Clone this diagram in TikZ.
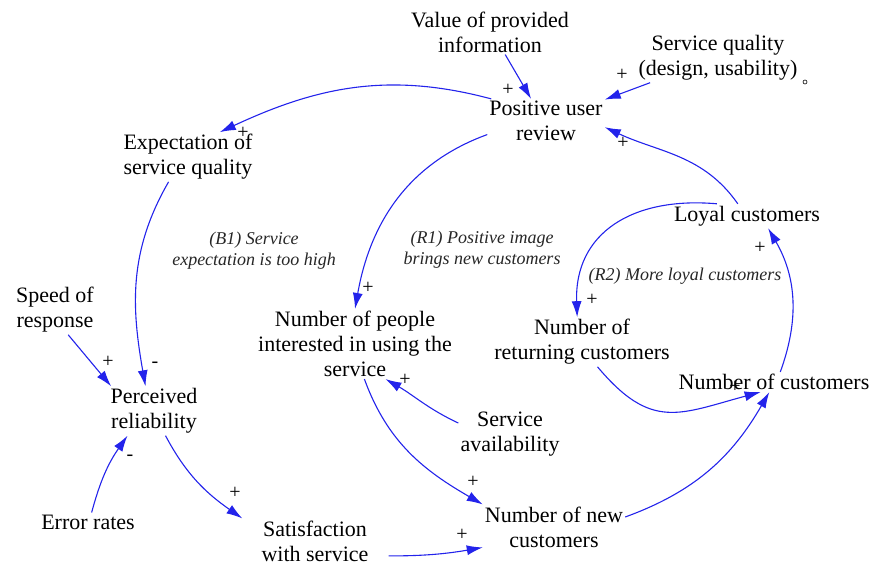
\documentclass[tikz,border=0pt]{standalone}
\usepackage{fontspec}
\setmainfont{Liberation Serif}
\usetikzlibrary{arrows.meta}
\definecolor{linkblue}{RGB}{35,35,235}
\tikzstyle{factor} = [align=center, inner sep=2pt, font=\fontsize{22}{25}\selectfont]
\tikzstyle{loopname} = [align=center, inner sep=1pt, font=\fontsize{18}{21}\selectfont\itshape, text=black!85]
\tikzstyle{polarity} = [inner sep=0pt, font=\fontsize{20}{20}\selectfont]
\tikzstyle{link} = [draw=linkblue, line width=1.1pt, -{Latex[length=16pt,width=10pt]}]

\begin{document}
\begin{tikzpicture}[x=1pt,y=1pt]
	\useasboundingbox (0,0) rectangle (872,565);
	\node[factor] (val) at (490,533) {Value of provided\\information};
	\node[factor] (sq) at (718,507) {Service quality\\(design, usability)};
	\node[draw, circle, inner sep=0pt, minimum size=4pt, line width=0.6pt] (dot) at (805,483) {};
	\node[factor] (pur) at (546,444) {Positive user\\review};
	\node[factor] (exp) at (188,408) {Expectation of\\service quality};
	\node[loopname] (b1) at (254,314) {(B1) Service\\expectation is too high};
	\node[loopname] (r1) at (482,315) {(R1) Positive image\\brings new customers};
	\node[factor] (loyal) at (747,349) {Loyal customers};
	\node[loopname] (r2) at (685,289) {(R2) More loyal customers};
	\node[factor] (speed) at (55,255) {Speed of\\response};
	\node[factor] (nop) at (355,221) {Number of people\\interested in using the\\service};
	\node[factor] (ret) at (582,223) {Number of\\returning customers};
	\node[factor] (cust) at (774,183) {Number of customers};
	\node[factor] (pr) at (154,154) {Perceived\\reliability};
	\node[factor] (avail) at (510,131) {Service\\availability};
	\node[factor] (err) at (88,43) {Error rates};
	\node[factor] (sat) at (315,24) {Satisfaction\\with service};
	\node[factor] (new) at (554,38) {Number of new\\customers};

	\draw[link] (val.-56) -- (pur.124);
	\draw[link] (sq.200) -- (pur.20);
	\draw[link] (loyal.127) to[out=125,in=-25] (pur.-6);
	\draw[link] (pur.158) to[out=165,in=25] (exp.38);
	\draw[link] (pur.193) to[out=200,in=80] (nop.north);
	\draw[link] (exp.232) to[out=240,in=100] (pr.109);
	\draw[link] (speed.-62) -- (pr.150);
	\draw[link] (err.69) to[out=75,in=235] (pr.223);
	\draw[link] (pr.-65) to[out=-62,in=145] ([xshift=-17pt]sat.north west);
	\draw[link, shorten <=18pt] (sat.-15) to[out=0,in=190] (new.196);
	\draw[link] (nop.-75) to[out=-70,in=150] (new.north west);
	\draw[link] (avail.168) to[out=155,in=-30] (nop.-49);
	\draw[link] (new.8) to[out=20,in=240] (cust.245);
	\draw[link] (ret.-58) to[out=-50,in=195,looseness=1.3] (cust.217);
	\draw[link] (cust.58) to[out=70,in=-60] (loyal.-30);
	\draw[link] (loyal.158) to[out=175,in=92,looseness=1.2] (ret.101);

	\node[polarity] (pval) at (508,475) {+};
	\node[polarity] (psq) at (622,490) {+};
	\node[polarity] (ployal) at (623,422) {+};
	\node[polarity] (pexp) at (243,432) {+};
	\node[polarity] (pnop) at (368,277) {+};
	\node[polarity] (ppr) at (155,200) {-};
	\node[polarity] (pspeed) at (108,203) {+};
	\node[polarity] (perr) at (130,107) {-};
	\node[polarity] (psat) at (235,72) {+};
	\node[polarity] (pnew) at (462,30) {+};
	\node[polarity] (pnew2) at (473,83) {+};
	\node[polarity] (pavail) at (405,185) {+};
	\node[polarity] (pcust) at (735,178) {+};
	\node[polarity] (ploy) at (760,317) {+};
	\node[polarity] (pret) at (592,265) {+};
\end{tikzpicture}
\end{document}
